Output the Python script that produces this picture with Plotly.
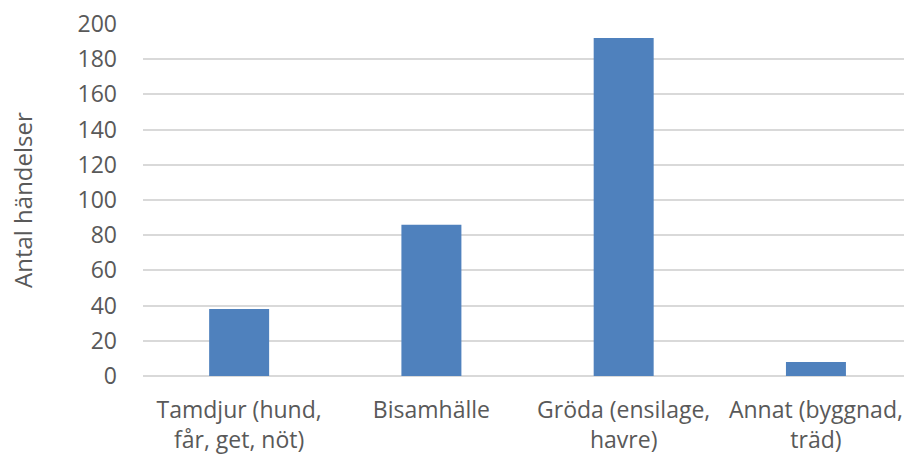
import plotly.graph_objects as go

categories = ["Tamdjur (hund,<br>får, get, nöt)", "Bisamhälle", "Gröda (ensilage,<br>havre)", "Annat (byggnad,<br>träd)"]
values = [38, 86, 192, 8]
y_ticks = [0, 20, 40, 60, 80, 100, 120, 140, 160, 180, 200]
y_title = "Antal händelser"

positions = list(range(len(values)))

fig = go.Figure()
fig.add_trace(go.Bar(
    x=positions, y=values,
    marker=dict(color="#4f81bd", line=dict(width=0)),
    width=0.312, hoverinfo="y",
))

font_family = "'Open Sans', sans-serif"
fs = 23
grey = "#595959"
fig.update_layout(
    width=904, height=456,
    margin=dict(l=143, r=0, t=24, b=80),
    plot_bgcolor="white", paper_bgcolor="white",
    showlegend=False,
    font=dict(family=font_family, size=fs, color=grey),
    xaxis=dict(
        tickmode="array", tickvals=positions, ticktext=categories,
        range=[-0.5, 3.458], showgrid=False, zeroline=False, showline=False,
        ticks="", ticklabelstandoff=18, tickfont=dict(size=fs, color=grey),
    ),
    yaxis=dict(
        range=[0, 200], tickvals=y_ticks, showgrid=True, gridcolor="#d9d9d9", gridwidth=1.5,
        zeroline=True, zerolinecolor="#d9d9d9", zerolinewidth=1.5, showline=False,
        ticks="", ticklabelstandoff=25, tickfont=dict(size=fs, color=grey),
    ),
    annotations=[dict(
        text=y_title, textangle=-90, x=(22 - 143) / (904 - 143), xref="paper", y=0.5, yref="paper",
        showarrow=False, font=dict(size=24, color=grey), xanchor="center", yanchor="middle",
    )],
)
fig.write_html("out.html", config={"displayModeBar": False},
               post_script="document.body.style.margin='0';")
